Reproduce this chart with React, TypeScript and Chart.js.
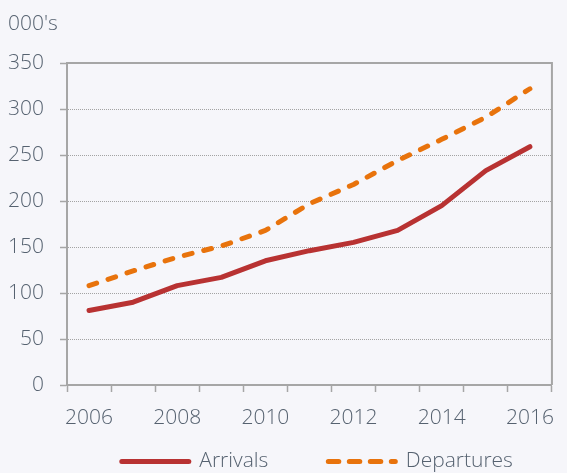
import React, { useEffect, useRef } from 'react';
import { Chart, registerables } from 'chart.js';

Chart.register(...registerables);

// ---- data ----
const years = ['2006', '2007', '2008', '2009', '2010', '2011', '2012', '2013', '2014', '2015', '2016'];
const arrivals = [81, 90, 108, 117, 135, 146, 155, 168, 195, 233, 259];
const departures = [108, 124, 139, 151, 168, 197, 218, 244, 267, 291, 322];
const seriesNames = ['Arrivals', 'Departures'];
const unitLabel = "000's";
const yMin = 0;
const yMax = 350;
const yStep = 50;

// ---- style ----
const FONT = "'Open Sans', sans-serif";
const WEIGHT = '350';
const TEXT = '#566270';
const AXIS = '#a6a6a6';
const GRID = '#a3a3a3';
const BG = '#f6f6fa';
const RED = '#b83232';
const ORANGE = '#e8730c';
const FS = 21;

const framePlugin = {
  id: 'frame',
  beforeDatasetsDraw(chart: any) {
    const { ctx, chartArea: a } = chart;
    ctx.save();
    ctx.strokeStyle = AXIS;
    ctx.lineWidth = 2;
    ctx.beginPath();
    ctx.moveTo(a.left, a.top);
    ctx.lineTo(a.right, a.top);
    ctx.lineTo(a.right, a.bottom);
    ctx.stroke();
    ctx.restore();
  },
};

const legendPlace = {
  id: 'legendPlace',
  afterLayout(chart: any) {
    const lg = chart.legend;
    if (!lg || !lg.lineWidths) return;
    const p = lg.options.labels.padding;
    lg.top = 461.5 - p - FS / 2;
    lg.bottom = chart.height;
    const lw = lg.lineWidths[0];
    const cur = (lg.left + p + lg.right - lw) / 2;
    const dx = 121.8 - cur;
    lg.left += dx;
    lg.right += dx;
  },
};

export default function App() {
  const ref = useRef<HTMLCanvasElement>(null);

  useEffect(() => {
    document.body.style.margin = '0';
    document.body.style.background = BG;
    const chart = new Chart(ref.current as HTMLCanvasElement, {
      type: 'line',
      data: {
        labels: years,
        datasets: [
          {
            label: seriesNames[0],
            data: arrivals,
            borderColor: RED,
            backgroundColor: RED,
            borderWidth: 5,
            pointRadius: 0,
            tension: 0,
            borderCapStyle: 'round',
            borderJoinStyle: 'round',
          },
          {
            label: seriesNames[1],
            data: departures,
            borderColor: ORANGE,
            backgroundColor: ORANGE,
            borderWidth: 5,
            borderDash: [8, 12],
            pointRadius: 0,
            tension: 0,
            borderCapStyle: 'round',
            borderJoinStyle: 'round',
          },
        ],
      },
      options: {
        responsive: false,
        animation: false,
        events: [],
        layout: { padding: { left: 8, right: 3, top: 0, bottom: 0 } },
        scales: {
          x: {
            type: 'category',
            offset: true,
            grid: {
              display: true,
              drawOnChartArea: false,
              drawTicks: true,
              tickLength: 7,
              offset: true,
              tickColor: AXIS,
              tickWidth: 1.5,
            },
            border: { display: true, color: AXIS, width: 2 },
            ticks: {
              autoSkip: false,
              maxRotation: 0,
              minRotation: 0,
              padding: 13,
              color: TEXT,
              font: { family: FONT, size: FS, weight: WEIGHT },
              callback: (_v: any, i: number) => (i % 2 === 0 ? years[i] : ''),
            },
            afterFit: (s: any) => {
              s.height = 45;
            },
          },
          y: {
            min: yMin,
            max: yMax,
            ticks: {
              stepSize: yStep,
              padding: 16,
              color: TEXT,
              font: { family: FONT, size: FS, weight: WEIGHT },
            },
            grid: {
              color: (c: any) => (c.tick && c.tick.value === 0 ? 'rgba(0,0,0,0)' : GRID),
              lineWidth: 1,
              drawTicks: true,
              tickLength: 7,
              tickColor: AXIS,
              tickWidth: 1.5,
            },
            border: { display: true, color: AXIS, width: 2, dash: [1, 1] },
            afterFit: (s: any) => {
              s.width = 59;
            },
          },
        },
        plugins: {
          tooltip: { enabled: false },
          title: {
            display: true,
            text: unitLabel,
            align: 'start',
            color: TEXT,
            font: { family: FONT, size: FS, weight: WEIGHT },
            padding: { top: 11, bottom: 26.8 },
          },
          legend: {
            display: true,
            position: 'bottom',
            maxHeight: 43,
            labels: {
              usePointStyle: true,
              pointStyle: 'line',
              pointStyleWidth: 67,
              padding: 60,
              color: TEXT,
              font: { family: FONT, size: FS, weight: WEIGHT },
              generateLabels: (ch: any) => {
                const items = Chart.defaults.plugins.legend.labels.generateLabels(ch);
                items.forEach((it: any, i: number) => {
                  it.lineDash = i === 1 ? [10.5, 10.5] : [];
                  it.lineCap = 'round';
                  it.lineWidth = 5;
                  it.fontColor = TEXT;
                });
                return items;
              },
            },
          },
        },
      },
      plugins: [framePlugin, legendPlace],
    } as any);
    return () => chart.destroy();
  }, []);

  return (
    <div style={{ width: 567, height: 473, background: BG }}>
      <canvas ref={ref} width={567} height={473} style={{ display: 'block' }} />
    </div>
  );
}
